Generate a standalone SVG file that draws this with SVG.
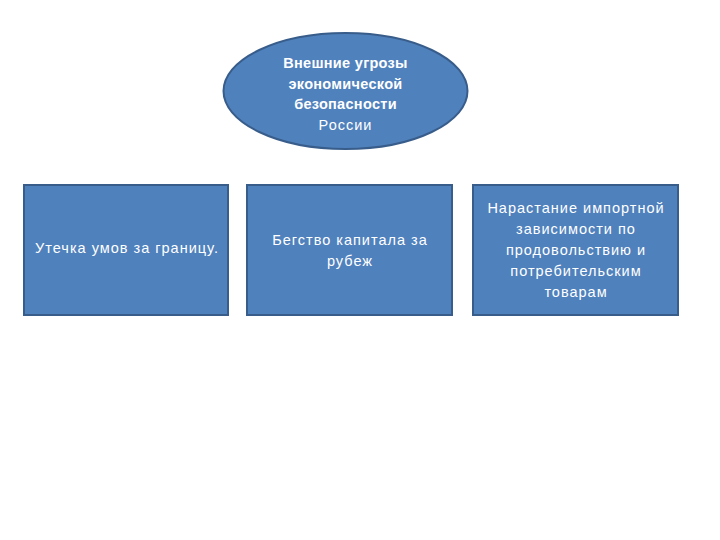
<svg xmlns="http://www.w3.org/2000/svg" width="720" height="540" viewBox="0 0 720 540">
<style>
.n{fill:#4F81BD;stroke:#385D8A;stroke-width:2}
.t{fill:#fff;font-family:"Liberation Sans","Open Sans",sans-serif;font-size:14.5px;text-anchor:middle;letter-spacing:1px}
.b{font-weight:bold;letter-spacing:0.3px}
</style>
<rect width="720" height="540" fill="#fff"/>
<g id="connectors"></g>
<g id="root">
<ellipse class="n" cx="345.5" cy="91" rx="122" ry="58"/>
<text class="t b" x="345.5" y="68">Внешние угрозы</text>
<text class="t b" x="345.5" y="89">экономической</text>
<text class="t b" x="345.5" y="109">безопасности</text>
<text class="t" x="345.5" y="130">России</text>
</g>
<g id="n1">
<rect class="n" x="24" y="185" width="204" height="130"/>
<text class="t" x="127" y="253">Утечка умов за границу.</text>
</g>
<g id="n2">
<rect class="n" x="247" y="185" width="205" height="130"/>
<text class="t" x="350" y="245">Бегство капитала за</text>
<text class="t" x="350" y="266">рубеж</text>
</g>
<g id="n3">
<rect class="n" x="473" y="185" width="205" height="130"/>
<text class="t" x="576" y="213">Нарастание импортной</text>
<text class="t" x="576" y="234">зависимости по</text>
<text class="t" x="576" y="255">продовольствию и</text>
<text class="t" x="576" y="276">потребительским</text>
<text class="t" x="576" y="297">товарам</text>
</g>
</svg>
